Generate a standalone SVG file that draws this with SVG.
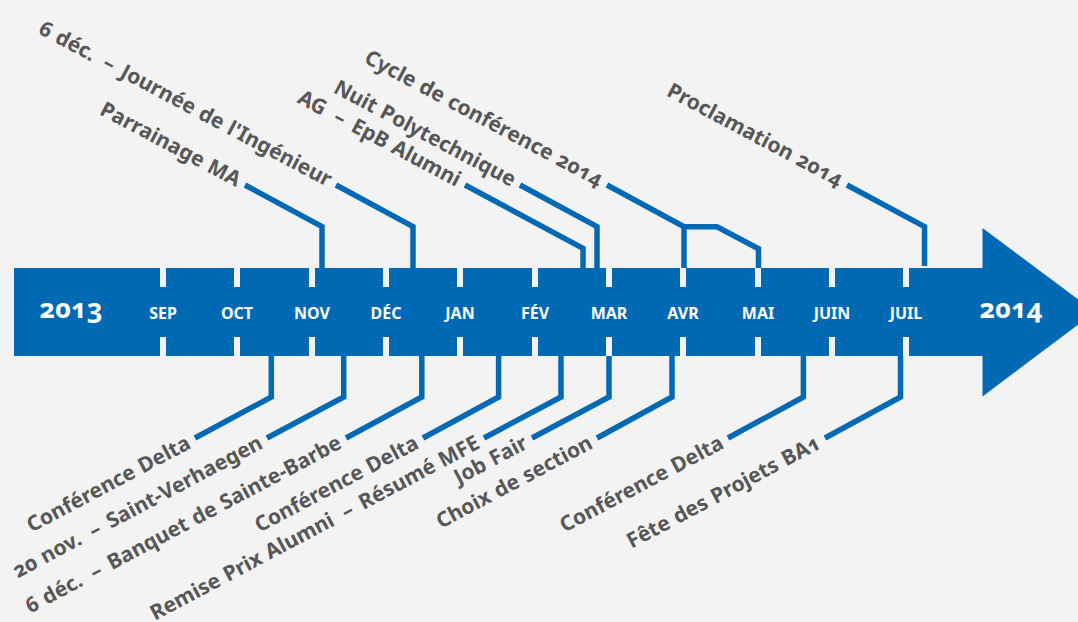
<svg xmlns="http://www.w3.org/2000/svg" width="1078" height="622" viewBox="0 0 1078 622">
<style>
.bg{fill:#f3f3f3}
.bar{fill:#0069b4}
.notch{fill:#f3f3f3}
.mon{font-family:"Noto Sans","Open Sans",sans-serif;font-weight:700;font-size:16px;fill:#ffffff;text-anchor:middle}
.yr{font-family:"Noto Sans","Open Sans",sans-serif;font-weight:700;font-size:27px;fill:#ffffff;text-anchor:middle;font-variant-numeric:oldstyle-nums}
.lbl{font-family:"Noto Sans","Open Sans",sans-serif;font-weight:700;font-size:21px;word-spacing:1px;fill:#575757;text-anchor:end;font-variant-numeric:oldstyle-nums}
.con{fill:none;stroke:#0069b4;stroke-width:5.5;stroke-linejoin:miter;stroke-linecap:butt}
</style>
<rect class="bg" x="0" y="0" width="1078" height="622"/>
<g id="timeline">
<path class="bar" d="M14,268 H982.5 V228 L1095,312 L982.5,396.5 V356 H14 Z"/>
<g class="notches">
<rect class="notch" x="160" y="268" width="6" height="19"/><rect class="notch" x="160" y="337" width="6" height="19"/>
<rect class="notch" x="234" y="268" width="6" height="19"/><rect class="notch" x="234" y="337" width="6" height="19"/>
<rect class="notch" x="309" y="268" width="6" height="19"/><rect class="notch" x="309" y="337" width="6" height="19"/>
<rect class="notch" x="383" y="268" width="6" height="19"/><rect class="notch" x="383" y="337" width="6" height="19"/>
<rect class="notch" x="457" y="268" width="6" height="19"/><rect class="notch" x="457" y="337" width="6" height="19"/>
<rect class="notch" x="532" y="268" width="6" height="19"/><rect class="notch" x="532" y="337" width="6" height="19"/>
<rect class="notch" x="606" y="268" width="6" height="19"/><rect class="notch" x="606" y="337" width="6" height="19"/>
<rect class="notch" x="680" y="268" width="6" height="19"/><rect class="notch" x="680" y="337" width="6" height="19"/>
<rect class="notch" x="755" y="268" width="6" height="19"/><rect class="notch" x="755" y="337" width="6" height="19"/>
<rect class="notch" x="829" y="268" width="6" height="19"/><rect class="notch" x="829" y="337" width="6" height="19"/>
<rect class="notch" x="903" y="268" width="6" height="19"/><rect class="notch" x="903" y="337" width="6" height="19"/>
</g>
<text class="yr" x="71" y="318">2013</text>
<text class="mon" x="163" y="319">SEP</text>
<text class="mon" x="237" y="319">OCT</text>
<text class="mon" x="312" y="319">NOV</text>
<text class="mon" x="386" y="319">DÉC</text>
<text class="mon" x="460" y="319">JAN</text>
<text class="mon" x="535" y="319">FÉV</text>
<text class="mon" x="609" y="319">MAR</text>
<text class="mon" x="683" y="319">AVR</text>
<text class="mon" x="758" y="319">MAI</text>
<text class="mon" x="832" y="319">JUIN</text>
<text class="mon" x="906" y="319">JUIL</text>
<text class="yr" x="1011" y="318">2014</text>
</g>
<g id="connectors">
<polyline class="con" points="245,185 322,226.7 322,268"/>
<polyline class="con" points="336,185 413,226.7 413,268"/>
<polyline class="con" points="465,185 583,248.3 583,268"/>
<polyline class="con" points="520,185 597,226.7 597,268"/>
<polyline class="con" points="607,185 684,226.7 717,226.7 758.5,248.7 758.5,268"/>
<line class="con" x1="684" y1="226.7" x2="684" y2="268"/>
<polyline class="con" points="847,185 924.5,226.7 924.5,266"/>
<polyline class="con" points="271.3,356 271.3,397 195,438"/>
<polyline class="con" points="343.7,356 343.7,397 267,438"/>
<polyline class="con" points="421.8,356 421.8,397 346,438"/>
<polyline class="con" points="498.6,356 498.6,397 423,438"/>
<polyline class="con" points="561,356 561,397 484,438"/>
<polyline class="con" points="609,356 609,397 532,438"/>
<polyline class="con" points="672,356 672,397 597,438"/>
<polyline class="con" points="803.4,356 803.4,397 728,438"/>
<polyline class="con" points="900.5,356 900.5,397 825,438"/>
</g>
<g id="ev-journee"><text class="lbl" transform="translate(336,185) rotate(28)" x="-7" y="6">6 déc. <tspan dx="5">–</tspan><tspan dx="3"> Journée de l'Ingénieur</tspan></text></g>
<g id="ev-parrainage"><text class="lbl" transform="translate(245,185) rotate(28)" x="-7" y="6">Parrainage MA</text></g>
<g id="ev-ag"><text class="lbl" transform="translate(465,185) rotate(28)" x="-7" y="6">AG <tspan dx="5">–</tspan><tspan dx="3"> EpB Alumni</tspan></text></g>
<g id="ev-nuit"><text class="lbl" transform="translate(520,185) rotate(28)" x="-7" y="6">Nuit Polytechnique</text></g>
<g id="ev-cycle"><text class="lbl" transform="translate(607,185) rotate(28)" x="-7" y="6">Cycle de conférence 2014</text></g>
<g id="ev-proclamation"><text class="lbl" transform="translate(847,185) rotate(28)" x="-7" y="6">Proclamation 2014</text></g>
<g id="ev-delta1"><text class="lbl" transform="translate(195,438) rotate(-28)" x="-7" y="7">Conférence Delta</text></g>
<g id="ev-verhaegen"><text class="lbl" transform="translate(267,438) rotate(-28)" x="-7" y="7">20 nov. <tspan dx="5">–</tspan><tspan dx="3"> Saint-Verhaegen</tspan></text></g>
<g id="ev-banquet"><text class="lbl" transform="translate(346,438) rotate(-28)" x="-7" y="7">6 déc. <tspan dx="5">–</tspan><tspan dx="3"> Banquet de Sainte-Barbe</tspan></text></g>
<g id="ev-delta2"><text class="lbl" transform="translate(423,438) rotate(-28)" x="-7" y="7">Conférence Delta</text></g>
<g id="ev-remise"><text class="lbl" transform="translate(484,438) rotate(-28)" x="-7" y="7">Remise Prix Alumni <tspan dx="5">–</tspan><tspan dx="3"> Résumé MFE</tspan></text></g>
<g id="ev-jobfair"><text class="lbl" transform="translate(532,438) rotate(-28)" x="-7" y="7">Job Fair</text></g>
<g id="ev-choix"><text class="lbl" transform="translate(597,438) rotate(-28)" x="-7" y="7">Choix de section</text></g>
<g id="ev-delta3"><text class="lbl" transform="translate(728,438) rotate(-28)" x="-7" y="7">Conférence Delta</text></g>
<g id="ev-fete"><text class="lbl" transform="translate(825,438) rotate(-28)" x="-7" y="7">Fête des Projets BA1</text></g>
</svg>
